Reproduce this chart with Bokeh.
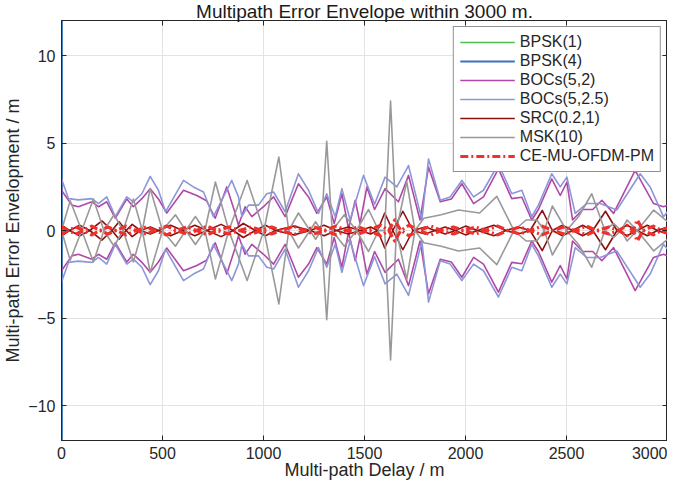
from bokeh.plotting import figure
from bokeh.models import Range1d, LinearAxis, Legend, LegendItem, FixedTicker
from bokeh.embed import file_html
from bokeh.resources import INLINE

# ---------------- data ----------------
bpsk1_delay = [0, 0]
bpsk1_err = [-15, 15]
bpsk4_delay = [0, 0]
bpsk4_err = [-15, 15]

boc52_delay = [0, 51, 84, 150, 183, 224, 266, 323, 356, 398, 439, 480, 521, 604, 670, 718, 761, 818, 860,
               876, 909, 942, 1000, 1050, 1107, 1173, 1223, 1264, 1313, 1350, 1388, 1421, 1454, 1478, 1512,
               1550, 1602, 1668, 1718, 1775, 1817, 1875, 1930, 1982, 2040, 2089, 2163, 2229, 2279, 2328,
               2361, 2427, 2469, 2502, 2530, 2580, 2630, 2675, 2733, 2840, 2931, 2980, 3000]
boc52_env = [2.3, 1.45, 1.36, 1.64, 1.36, 1.64, 0.7, 1.8, 1.36, 1.82, 2.39, 1.8, 1.0, 2.3, 2.0, 1.7, 0.7, 2.49,
             0.98, 0.3, 1.36, 0.79, 1.36, 1.92, 0.79, 2.67, 1.92, 0.98, 1.92, 0.4, 2.1, 0.1, 1.73, 0.4, 2.49,
             1.2, 2.39, 1.64, 3.15, 0.6, 3.62, 1.64, 1.8, 2.67, 1.54, 1.92, 3.52, 1.82, 1.9, 0.6,
             1.2, 2.95, 2.0, 2.77, 0.6, 1.2, 1.2, 1.73, 0.98, 3.43, 1.54, 1.36, 1.45]

boc525_delay = [0, 35, 84, 150, 183, 224, 266, 323, 356, 398, 439, 480, 515, 604, 653, 703, 752, 843, 876,
                893, 926, 975, 1016, 1050, 1107, 1173, 1223, 1272, 1313, 1355, 1388, 1429, 1495, 1550,
                1602, 1660, 1718, 1784, 1817, 1875, 1924, 1982, 2040, 2089, 2163, 2229, 2279, 2328, 2361,
                2427, 2469, 2502, 2543, 2600, 2667, 2749, 2865, 2914, 2980, 3000]
boc525_env = [2.95, 1.82, 1.75, 1.82, 1.54, 1.92, 0.79, 1.92, 1.64, 2.1, 3.09, 2.3, 1.07, 2.86, 2.49, 2.2, 0.79,
              2.86, 1.92, 0.79, 1.45, 1.45, 2.1, 2.2, 1.07, 3.24, 2.3, 0.98, 2.1, 0.79, 2.39, 0.6, 3.15, 1.5,
              3.05, 2.49, 3.71, 0.6, 4.09, 1.73, 1.92, 2.86, 1.92, 2.3, 3.8, 2.1, 2.3, 0.79, 1.45,
              3.24, 2.49, 3.05, 0.98, 1.54, 1.54, 1.17, 3.24, 2.49, 0.79, 1.07]

src_delay = [0, 40, 90, 140, 200, 250, 285, 320, 350, 390, 440, 480, 540, 600, 660, 720, 790, 850, 900, 960,
             1010, 1060, 1150, 1230, 1300, 1360, 1420, 1480, 1530, 1565, 1600, 1640, 1690, 1740, 1800,
             1850, 1900, 1950, 2000, 2060, 2140, 2200, 2260, 2320, 2380, 2430, 2480, 2530, 2580, 2630,
             2693, 2750, 2800, 2850, 2900, 2950, 3000]
src_env = [0.3, 0, -0.3, 0, 0.55, 0, -0.5, 0, 0.35, 0, -0.2, 0, 0.3, 0, -0.3, 0, 0.35, 0, -0.4, 0,
           0.3, 0, -0.25, 0, 0.3, 0, -0.2, 0, 0.2, 0, 1.0, 0, -1.1, 0, 0.2,
           0, -0.2, 0, 0.25, 0, -0.3, 0, 0.2, 0, 1.15, 0, -0.3, 0, 0.3, 0,
           1.1, 0, -0.3, 0, 0.3, 0, -0.2]

msk_delay = [0, 43, 100, 158, 210, 260, 305, 356, 400, 439, 500, 564, 615, 663, 710, 762, 828, 919, 1002,
             1076, 1125, 1173, 1230, 1258, 1285, 1313, 1340, 1400, 1460, 1520, 1570, 1600, 1629, 1658,
             1709, 1750, 1794, 1880, 1965, 2070, 2155, 2240, 2300, 2353, 2390, 2430, 2500, 2560, 2625,
             2690, 2734, 2770, 2800, 2850, 2932, 3000]
msk_env = [0, 1.7, 0, -1.8, 0, 0.9, 0, -1.8, 0, 2.4, 0, 0.9, 0, 0.8, 0, 2.77, 0, -2.86, 0,
           4.2, 0, -1.0, 0, 0.5, 0, 5.1, 0, -0.9, 0, 1.2, 0, 0, 7.4, 0,
           -2.8, 0, -0.7, -0.9, -1.17, -1.0, -1.95, 0, 0.6, 0.6, 0, -1.4, 0, 0.8, 2.1,
           0, -0.4, 0, 0.6, 0, -1.17, -0.5]

ofdm_delay = [0, 30, 70, 110, 150, 190, 230, 270, 320, 370, 420, 460, 520, 570, 620, 670, 720, 770, 830,
              880, 940, 990, 1040, 1090, 1150, 1200, 1250, 1300, 1360, 1410, 1470, 1520, 1580, 1620, 1650,
              1680, 1720, 1770, 1830, 1880, 1940, 1990, 2050, 2100, 2160, 2210, 2270, 2320, 2380, 2430,
              2490, 2540, 2600, 2650, 2710, 2760, 2800, 2830, 2850, 2880, 2930, 2970, 3000]
ofdm_env = [0.2, 0, -0.2, 0, 0.25, 0, -0.2, 0, 0.25, 0, -0.2, 0, 0.25, 0, -0.2, 0, 0.25, 0, -0.2,
            0, 0.2, 0, -0.2, 0, 0.25, 0, -0.2, 0, 0.25, 0, -0.2, 0, 0.3, 0, -0.6,
            0, 0.3, 0, -0.25, 0, 0.2, 0, -0.2, 0, 0.25, 0, -0.2, 0, 0.25, 0,
            -0.2, 0, 0.25, 0, -0.2, 0, 0.3, 0, -0.6, 0, 0.25, 0, -0.15]

x_ticks = [0, 500, 1000, 1500, 2000, 2500, 3000]
y_ticks = [-10, -5, 0, 5, 10]

FONT = "Liberation Sans"
INK = "#262626"

p = figure(width=667, height=482, output_backend="svg", toolbar_location=None,
           x_range=Range1d(0, 3000), y_range=Range1d(-12, 12),
           min_border_left=53, min_border_right=0, min_border_top=14, min_border_bottom=40)

p.title.text = "Multipath Error Envelope within 3000 m."
p.title.align = "center"
p.title.text_font = FONT
p.title.text_font_size = "19px"
p.title.text_font_style = "normal"
p.title.text_color = "#1a1a1a"
p.title.standoff = -3
p.title.offset = 0

p.outline_line_color = INK
p.outline_line_width = 1

for ax in (p.xaxis[0], p.yaxis[0]):
    ax.major_tick_in = 5
    ax.major_tick_out = 0
    ax.minor_tick_in = 0
    ax.minor_tick_out = 0
    ax.axis_line_color = INK
    ax.major_tick_line_color = INK
    ax.major_label_text_font = FONT
    ax.major_label_text_font_size = "16px"
    ax.major_label_text_color = INK
    ax.axis_label_text_font = FONT
    ax.axis_label_text_font_size = "18px"
    ax.axis_label_text_font_style = "normal"
    ax.axis_label_text_color = INK

p.xaxis.ticker = FixedTicker(ticks=x_ticks)
p.yaxis.ticker = FixedTicker(ticks=y_ticks)
p.xaxis.axis_label = "Multi-path Delay / m"
p.yaxis.axis_label = "Multi-path Error Envelopment / m"
p.xaxis.major_label_standoff = 6
p.xaxis.axis_label_standoff = -2
p.yaxis.major_label_standoff = 6
p.yaxis.axis_label_standoff = 2

blank_x = {t: "" for t in x_ticks}
blank_y = {t: "" for t in y_ticks}
top_ax = LinearAxis(ticker=FixedTicker(ticks=x_ticks), major_tick_in=5, major_tick_out=0,
                    minor_tick_in=0, minor_tick_out=0, major_label_overrides=blank_x,
                    major_label_text_color=None, major_label_text_font_size="1px",
                    major_label_standoff=0, axis_label_standoff=0,
                    axis_line_color=INK, major_tick_line_color=INK)
right_ax = LinearAxis(ticker=FixedTicker(ticks=y_ticks), major_tick_in=5, major_tick_out=0,
                      minor_tick_in=0, minor_tick_out=0, major_label_overrides=blank_y,
                      major_label_text_color=None, major_label_text_font_size="1px",
                      major_label_standoff=0, axis_label_standoff=0,
                      axis_line_color=INK, major_tick_line_color=INK)
p.add_layout(top_ax, "above")
p.add_layout(right_ax, "right")

p.xgrid.grid_line_color = "#e3e3e3"
p.ygrid.grid_line_color = "#e3e3e3"
p.xgrid.ticker = FixedTicker(ticks=x_ticks)
p.ygrid.ticker = FixedTicker(ticks=y_ticks)

items = []

def neg(vals):
    return [-v for v in vals]

def pair(x, y, color, width, label, dash="solid"):
    r1 = p.line(x, y, line_color=color, line_width=width, line_dash=dash, line_join="round")
    r2 = p.line(x, neg(y), line_color=color, line_width=width, line_dash=dash, line_join="round")
    items.append(LegendItem(label=label, renderers=[r1]))
    return r1, r2

pair(bpsk1_delay, bpsk1_err, "#4dbf4d", 1.6, "BPSK(1)")
pair(bpsk4_delay, bpsk4_err, "#3a72c4", 2.2, "BPSK(4)")
pair(boc52_delay, boc52_env, "#b048a8", 1.6, "BOCs(5,2)")
pair(boc525_delay, boc525_env, "#8c96d8", 1.6, "BOCs(5,2.5)")
pair(src_delay, src_env, "#8b1010", 1.6, "SRC(0.2,1)")
pair(msk_delay, msk_env, "#999999", 1.6, "MSK(10)")
pair(ofdm_delay, ofdm_env, "#f0302c", 3.2, "CE-MU-OFDM-PM", dash="8 3 2 3")

legend = Legend(items=items, location="top_right")
legend.label_text_font = FONT
legend.label_text_font_size = "16px"
legend.label_text_color = INK
legend.border_line_color = INK
legend.border_line_width = 1
legend.background_fill_alpha = 1
legend.glyph_width = 55
legend.glyph_height = 14
legend.label_height = 14
legend.spacing = 1
legend.padding = 6
legend.margin = 6
legend.label_standoff = 5
p.add_layout(legend)

open("out.html", "w").write(file_html(p, INLINE))
